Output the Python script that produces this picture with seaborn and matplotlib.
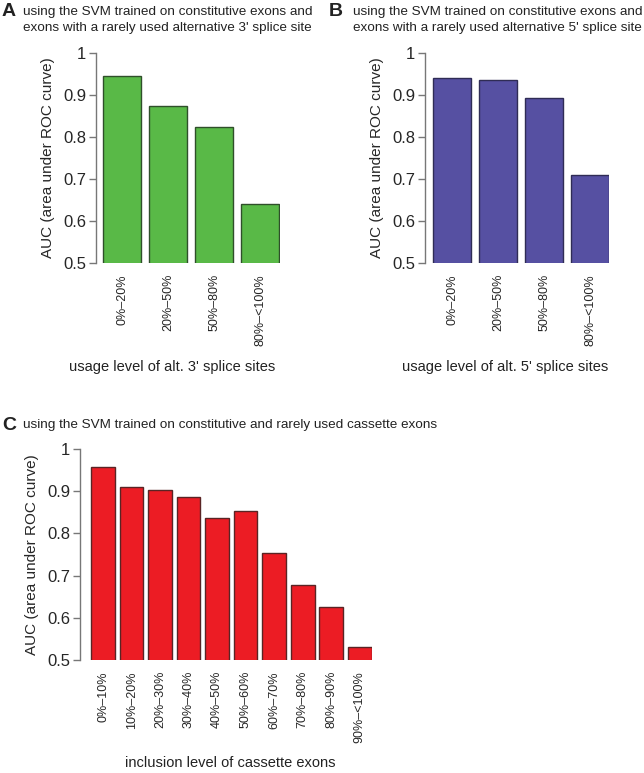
import matplotlib
matplotlib.use("Agg")
import matplotlib.pyplot as plt
import seaborn as sns
import pandas as pd

# AUC values
levels_3ss = ["0%–20%", "20%–50%", "50%–80%", "80%–<100%"]
auc_3ss = [0.945, 0.874, 0.825, 0.641]

levels_5ss = ["0%–20%", "20%–50%", "50%–80%", "80%–<100%"]
auc_5ss = [0.940, 0.935, 0.892, 0.710]

levels_cas = ["0%–10%", "10%–20%", "20%–30%", "30%–40%", "40%–50%",
              "50%–60%", "60%–70%", "70%–80%", "80%–90%", "90%–<100%"]
auc_cas = [0.957, 0.909, 0.904, 0.886, 0.836, 0.853, 0.754, 0.678, 0.625, 0.530]

sns.set_style("white")
plt.rcParams["font.family"] = ["Liberation Sans", "DejaVu Sans"]
plt.rcParams["text.color"] = "#222222"

W, H = 644, 773
fig = plt.figure(figsize=(W / 100, H / 100), dpi=100)


def px_axes(x0, x1, ytop, ybot):
    return fig.add_axes([x0 / W, 1 - ybot / H, (x1 - x0) / W, (ybot - ytop) / H])


def panel(ax, labels, values, color, edge, xlim, xlabel, label_x, label_y):
    df = pd.DataFrame({"level": labels, "auc": values})
    sns.barplot(data=df, x="level", y="auc", color=color, width=0.83,
                edgecolor=edge, linewidth=1.0, saturation=1, ax=ax)
    ax.set_xlim(*xlim)
    ax.set_ylim(0.5, 1.0)
    ax.set_yticks([0.5, 0.6, 0.7, 0.8, 0.9, 1.0])
    ax.set_yticklabels(["0.5", "0.6", "0.7", "0.8", "0.9", "1"])
    for s in ["top", "right", "bottom"]:
        ax.spines[s].set_visible(False)
    ax.spines["left"].set_color("#777777")
    ax.spines["left"].set_linewidth(1.0)
    ax.tick_params(axis="y", length=5, width=1.0, color="#777777",
                   labelsize=12, pad=2, left=True)
    ax.tick_params(axis="x", length=0, labelsize=9, pad=8)
    plt.setp(ax.get_xticklabels(), rotation=90)
    ax.set_xlabel("")
    ax.set_ylabel("AUC (area under ROC curve)", fontsize=11, labelpad=6)
    fig.text(label_x / W, 1 - label_y / H, xlabel,
             ha="center", va="center", fontsize=10.5)


axA = px_axes(96, 280, 53, 263)
panel(axA, levels_3ss, auc_3ss, "#59b947", "#2f4f2a", (-0.565, 3.43),
      "usage level of alt. 3' splice sites", 172, 367)

axB = px_axes(425, 609, 53, 263)
panel(axB, levels_5ss, auc_5ss, "#5650a2", "#2f2c55", (-0.587, 3.41),
      "usage level of alt. 5' splice sites", 505, 367)

axC = px_axes(80, 372, 449, 660)
panel(axC, levels_cas, auc_cas, "#ec1c24", "#5a2424", (-0.809, 9.43),
      "inclusion level of cassette exons", 230, 763)

# panel letters and titles
title_fs = 9.7
fig.text(2 / W, 1 - 12 / H, "A", fontsize=14, fontweight="bold", va="center")
fig.text(23 / W, 1 - 12 / H, "using the SVM trained on constitutive exons and",
         fontsize=title_fs, va="center")
fig.text(23 / W, 1 - 28 / H, "exons with a rarely used alternative 3' splice site",
         fontsize=title_fs, va="center")

fig.text(329 / W, 1 - 12 / H, "B", fontsize=14, fontweight="bold", va="center")
fig.text(353 / W, 1 - 12 / H, "using the SVM trained on constitutive exons and",
         fontsize=title_fs, va="center")
fig.text(353 / W, 1 - 28 / H, "exons with a rarely used alternative 5' splice site",
         fontsize=title_fs, va="center")

fig.text(2 / W, 1 - 425 / H, "C", fontsize=14, fontweight="bold", va="center")
fig.text(23 / W, 1 - 425 / H,
         "using the SVM trained on constitutive and rarely used cassette exons",
         fontsize=title_fs, va="center")

fig.savefig("out.png", dpi=100)
